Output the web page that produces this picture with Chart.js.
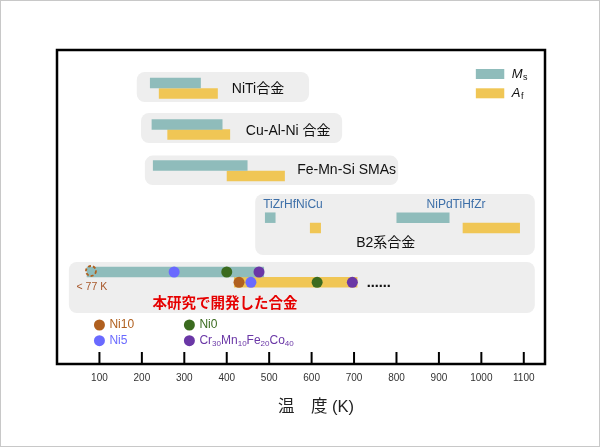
<!DOCTYPE html>
<html>
<head>
<meta charset="utf-8">
<script src="https://cdn.jsdelivr.net/npm/chart.js@4"></script>
<style>
  body { margin: 0; background: #fff; }
  canvas { display: block; }
</style>
</head>
<body>
<canvas id="chart1" width="600" height="447"></canvas>
<script>
// alloy groups, Ms and Af ranges (K)
const alloys = ['NiTi', 'Cu-Al-Ni', 'Fe-Mn-Si', 'TiZrHfNiCu', 'NiPdTiHfZr', 'This work'];
const msRanges = [[219, 339], [223, 390], [226, 449], [490, 515], [800, 925], [70, 488]];
const afRanges = [[240, 379], [260, 408], [400, 537], [596, 622], [956, 1091], [417, 708]];

// samples of this work (dots), K
const samples = ['Ni10', 'Ni5', 'Ni0', 'Cr30Mn10Fe20Co40'];
const sampleMs = [80, 276, 400, 476];   // Ni10 Ms is below 77 K
const sampleAf = [429, 457, 613, 696];

const xTicks = [100, 200, 300, 400, 500, 600, 700, 800, 900, 1000, 1100];

// layout: row centres in plot units (0 = top of frame, 1 unit = 1px)
const rowMs = [33, 74.5, 115.5, 167.7, 167.7, 222];
const rowAf = [43.5, 84.5, 126, 178, 178, 232.3];
const boxes = [
  { x: [188, 594], y: 37, h: 30 },
  { x: [198, 672], y: 78, h: 30 },
  { x: [207, 804], y: 120.3, h: 29.5 },
  { x: [467, 1126], y: 174.5, h: 61 },
  { x: [28, 1126], y: 237.5, h: 51 }
];

const MS_COLOR = '#8fbcbb';
const AF_COLOR = '#f0c655';
const BOX_COLOR = '#eeeeee';
const sampleColors = ['#b0601f', '#6a6aff', '#3b6b1f', '#6a37a6'];
const FONT = "'Liberation Sans', Arial, 'Noto Sans CJK JP', sans-serif";

const datasets = [];
boxes.forEach(b => {
  datasets.push({
    type: 'bar',
    indexAxis: 'y',
    data: [{ x: b.x, y: b.y }],
    backgroundColor: BOX_COLOR,
    barThickness: b.h,
    borderRadius: 8,
    borderSkipped: false,
    inflateAmount: 0,
    grouped: false,
    order: 3
  });
});
datasets.push({
  type: 'bar',
  indexAxis: 'y',
  label: 'Ms',
  data: msRanges.map((r, i) => ({ x: r, y: rowMs[i] })),
  backgroundColor: MS_COLOR,
  barThickness: 10.5,
  inflateAmount: 0,
  grouped: false,
  order: 2
});
datasets.push({
  type: 'bar',
  indexAxis: 'y',
  label: 'Af',
  data: afRanges.map((r, i) => ({ x: r, y: rowAf[i] })),
  backgroundColor: AF_COLOR,
  barThickness: 10.5,
  inflateAmount: 0,
  grouped: false,
  order: 2
});
// Ms dots (Ni10 drawn dashed, see plugin)
datasets.push({
  type: 'scatter',
  data: sampleMs.slice(1).map(v => ({ x: v, y: rowMs[5] })),
  pointBackgroundColor: sampleColors.slice(1),
  pointBorderWidth: 0,
  pointRadius: 5.5,
  order: 1
});
datasets.push({
  type: 'scatter',
  data: sampleAf.map(v => ({ x: v, y: rowAf[5] })),
  pointBackgroundColor: sampleColors,
  pointBorderWidth: 0,
  pointRadius: 5.5,
  order: 1
});

// text and decorations
const labels = [
  { text: 'NiTi合金', x: 412, y: 39, size: 14, color: '#111' },
  { text: 'Cu-Al-Ni 合金', x: 445, y: 80.7, size: 14, color: '#111' },
  { text: 'Fe-Mn-Si SMAs', x: 566, y: 120, size: 14, color: '#111' },
  { text: 'TiZrHfNiCu', x: 486, y: 155, size: 12, color: '#3d6fa8' },
  { text: 'NiPdTiHfZr', x: 871, y: 155, size: 12, color: '#3d6fa8' },
  { text: 'B2系合金', x: 705, y: 193.3, size: 14, color: '#111' },
  { text: '< 77 K', x: 46, y: 236.7, size: 10.5, color: '#a8582a' }
];

function richText(ctx, parts, x, y, size, color) {
  ctx.fillStyle = color;
  ctx.textAlign = 'left';
  ctx.textBaseline = 'middle';
  parts.forEach(p => {
    const sub = /^[0-9]+$/.test(p);
    ctx.font = (sub ? size * 0.67 : size) + 'px ' + FONT;
    ctx.fillText(p, x, sub ? y + 3 : y);
    x += ctx.measureText(p).width;
  });
}

const decorations = {
  id: 'decorations',
  afterDatasetsDraw(chart) {
    const { ctx, chartArea, scales: { x, y } } = chart;
    ctx.save();

    labels.forEach(l => {
      ctx.font = l.size + 'px ' + FONT;
      ctx.fillStyle = l.color;
      ctx.textAlign = 'left';
      ctx.textBaseline = 'middle';
      ctx.fillText(l.text, x.getPixelForValue(l.x), y.getPixelForValue(l.y));
    });

    // "......" after the bars
    ctx.font = "bold 12px 'DejaVu Sans', sans-serif";
    ctx.fillStyle = '#111';
    ctx.fillText('……', x.getPixelForValue(730), y.getPixelForValue(233.5));

    ctx.font = "bold 14.5px 'Noto Sans CJK JP', sans-serif";
    ctx.fillStyle = '#e60000';
    ctx.textAlign = 'center';
    ctx.fillText('本研究で開発した合金', x.getPixelForValue(396), y.getPixelForValue(252.7));

    // Ni10 Ms below 77 K: dashed circle
    ctx.beginPath();
    ctx.setLineDash([3, 2]);
    ctx.lineWidth = 1.8;
    ctx.strokeStyle = sampleColors[0];
    ctx.arc(x.getPixelForValue(sampleMs[0]), y.getPixelForValue(rowMs[5] - 1), 5, 0, Math.PI * 2);
    ctx.stroke();
    ctx.setLineDash([]);

    // Ms / Af key
    const kx = x.getPixelForValue(987), kw = x.getPixelForValue(1054) - kx;
    [[MS_COLOR, 'M', 's', 24], [AF_COLOR, 'A', 'f', 43.3]].forEach(k => {
      const ky = y.getPixelForValue(k[3]);
      ctx.fillStyle = k[0];
      ctx.fillRect(kx, ky - 5, kw, 10);
      ctx.fillStyle = '#111';
      ctx.textAlign = 'left';
      ctx.font = 'italic 13px ' + FONT;
      ctx.fillText(k[1], kx + kw + 7.5, ky);
      const w = ctx.measureText(k[1]).width;
      ctx.font = '9px ' + FONT;
      ctx.fillText(k[2], kx + kw + 7.5 + w + 0.5, ky + 3.5);
    });

    // sample key
    const keyPos = [[100, 275], [100, 290.7], [312, 275], [312, 290.7]];
    samples.forEach((s, i) => {
      const px = x.getPixelForValue(keyPos[i][0]), py = y.getPixelForValue(keyPos[i][1]);
      ctx.beginPath();
      ctx.fillStyle = sampleColors[i];
      ctx.arc(px, py, 5.5, 0, Math.PI * 2);
      ctx.fill();
      const parts = i === 3 ? s.match(/[A-Za-z]+|[0-9]+/g) : [s];
      richText(ctx, parts, px + 10, py, 12, sampleColors[i]);
    });

    // frame and inner ticks
    ctx.strokeStyle = '#000';
    ctx.lineWidth = 2.5;
    ctx.strokeRect(chartArea.left, chartArea.top, chartArea.right - chartArea.left, chartArea.bottom - chartArea.top);
    ctx.lineWidth = 2;
    xTicks.forEach(v => {
      const px = x.getPixelForValue(v);
      ctx.beginPath();
      ctx.moveTo(px, chartArea.bottom);
      ctx.lineTo(px, chartArea.bottom - 12);
      ctx.stroke();
    });

    // axis title
    ctx.font = '16.5px ' + FONT;
    ctx.fillStyle = '#222';
    ctx.textAlign = 'center';
    ctx.textBaseline = 'middle';
    ctx.fillText('温　度 (K)', 316, 407);

    // outer border
    ctx.strokeStyle = '#c8c8c8';
    ctx.lineWidth = 1;
    ctx.strokeRect(0.5, 0.5, chart.width - 1, chart.height - 1);
    ctx.restore();
  }
};

const chart = new Chart(document.getElementById('chart1').getContext('2d'), {
  type: 'bar',
  data: { datasets: datasets },
  options: {
    responsive: false,
    animation: false,
    layout: { padding: { left: 57, right: 55, top: 50, bottom: 0 } },
    plugins: { legend: { display: false }, tooltip: { enabled: false } },
    scales: {
      x: {
        type: 'linear',
        position: 'bottom',
        offset: false,
        min: 0,
        max: 1150,
        grid: { display: false, drawTicks: false, offset: false },
        border: { display: false },
        ticks: {
          font: { size: 10, family: FONT },
          color: '#333',
          padding: 8,
          callback: v => String(v)
        },
        afterBuildTicks: s => { s.ticks = xTicks.map(v => ({ value: v })); },
        afterFit: s => { s.height = 83; }
      },
      y: {
        type: 'linear',
        offset: false,
        min: 0,
        max: 314,
        reverse: true,
        display: false
      }
    }
  },
  plugins: [decorations]
});
</script>
</body>
</html>
